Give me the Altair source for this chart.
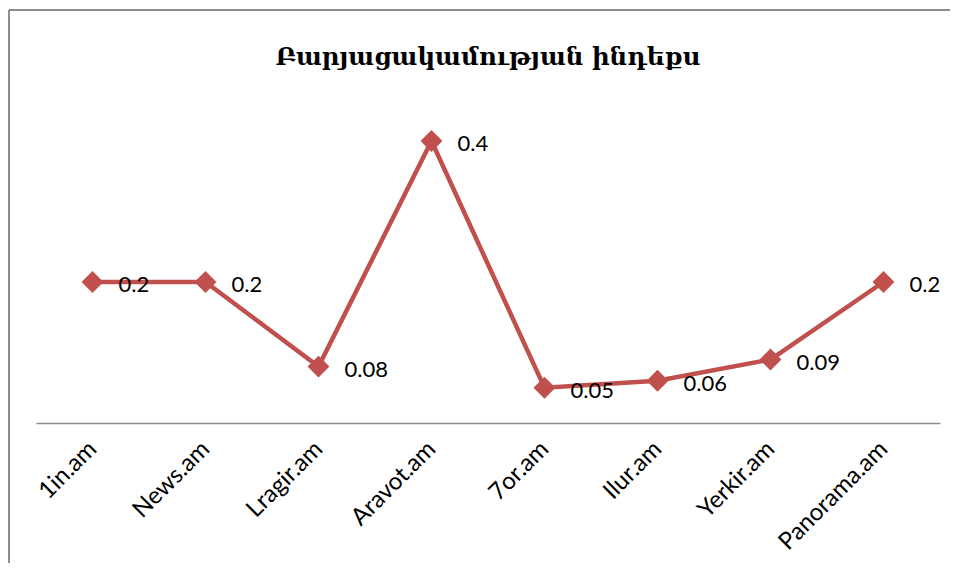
import altair as alt
import pandas as pd

sites = ["1in.am", "News.am", "Lragir.am", "Aravot.am", "7or.am", "Ilur.am", "Yerkir.am", "Panorama.am"]
values = [0.2, 0.2, 0.08, 0.4, 0.05, 0.06, 0.09, 0.2]
title_text = "Բարյացակամության ինդեքս"

df = pd.DataFrame({"site": sites, "value": values})
tdf = pd.DataFrame({"t": [title_text]})

RED = "#C0504D"
W, H = 904, 282

x = alt.X("site:N", sort=sites,
          scale=alt.Scale(type="point", padding=0.5),
          axis=alt.Axis(title=None, labelAngle=-45, labelFontSize=24, labelFont="Lato",
                        labelColor="#000000", ticks=False, domainColor="#8c8c8c",
                        domainWidth=1.5, grid=False, labelPadding=22,
                        labelAlign="right", labelBaseline="middle"))
y = alt.Y("value:Q", scale=alt.Scale(domain=[0, 0.4], nice=False, zero=True), axis=None)

base = alt.Chart(df).encode(x=x, y=y)

line = base.mark_line(color=RED, strokeWidth=4.5)
pts = base.mark_point(shape="diamond", size=480, filled=True, color=RED, opacity=1)
lbl = base.mark_text(align="left", baseline="middle", dx=26, dy=3, fontSize=22,
                     font="Lato", color="#000000").encode(text=alt.Text("value:Q"))

frame_left = alt.Chart(df).mark_rule(color="#8c8c8c", strokeWidth=2).encode(
    x=alt.value(-27), y=alt.value(-131), y2=alt.value(H + 140))
frame_top = alt.Chart(df).mark_rule(color="#8c8c8c", strokeWidth=2).encode(
    x=alt.value(-27), x2=alt.value(W + 10), y=alt.value(-131))

title = alt.Chart(tdf).mark_text(font="DejaVu Serif", fontSize=24.5, fontWeight="bold",
                                 color="#000000", align="center", baseline="alphabetic").encode(
    text="t:N", x=alt.value(W / 2), y=alt.value(-76))

chart = alt.layer(frame_left, frame_top, title, line, pts, lbl).properties(
    width=W, height=H,
    autosize=alt.AutoSizeParams(type="none"),
    padding={"left": 28, "top": 133, "right": 10, "bottom": 140},
).configure_view(stroke=None)

chart.save("out.html", embed_options={"renderer": "svg", "actions": False})
